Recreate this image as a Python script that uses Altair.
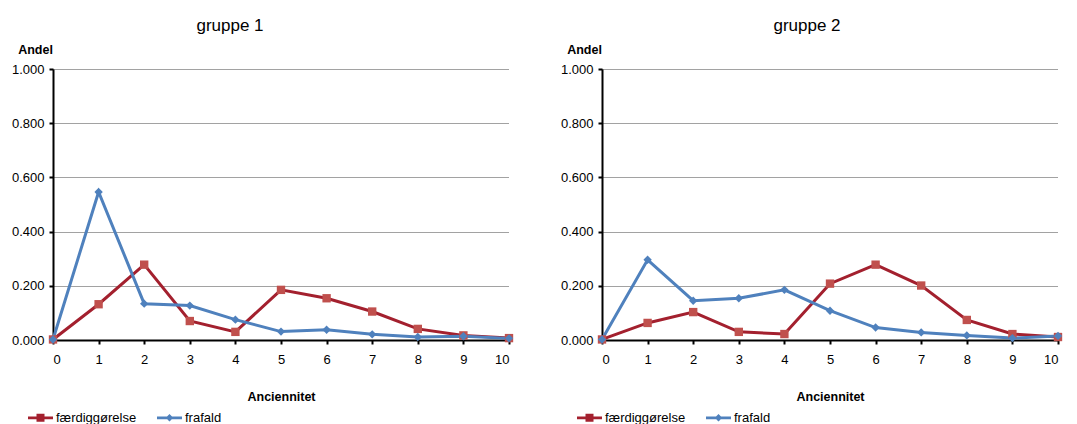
import altair as alt
import pandas as pd

x_vals = [0, 1, 2, 3, 4, 5, 6, 7, 8, 9, 10]
series_names = ["færdiggørelse", "frafald"]

g1_faerdig = [0.002, 0.132, 0.278, 0.070, 0.030, 0.185, 0.154, 0.105, 0.041, 0.017, 0.007]
g1_frafald = [0.002, 0.546, 0.134, 0.127, 0.075, 0.031, 0.038, 0.021, 0.011, 0.014, 0.006]
g2_faerdig = [0.002, 0.063, 0.103, 0.030, 0.022, 0.208, 0.278, 0.201, 0.074, 0.022, 0.011]
g2_frafald = [0.002, 0.296, 0.145, 0.154, 0.185, 0.108, 0.046, 0.028, 0.017, 0.007, 0.015]

line_colors = ["#A3202E", "#4F81BD"]
marker_colors = ["#C0504D", "#4F81BD"]

FONT = "Liberation Sans"


def make_df(a, b):
    rows = []
    for s, vals in zip(series_names, [a, b]):
        for x, v in zip(x_vals, vals):
            rows.append({"Anciennitet": x, "Andel": v, "serie": s})
    return pd.DataFrame(rows)


legend_path_sq = "M-1,-0.11L1,-0.11L1,0.11L-1,0.11Z M-0.32,-0.32L0.32,-0.32L0.32,0.32L-0.32,0.32Z"
legend_path_di = "M-1,-0.11L1,-0.11L1,0.11L-1,0.11Z M0,-0.3L0.3,0L0,0.3L-0.3,0Z"


def panel(df, title, dx):
    base = alt.Chart(df)
    xenc = alt.X(
        "Anciennitet:Q",
        scale=alt.Scale(domain=[0, 10], nice=False, zero=False),
        axis=alt.Axis(
            values=x_vals, format="d", grid=False, domainColor="black", domainWidth=2,
            tickColor="black", tickSize=4, tickWidth=2, labelPadding=9,
            title="Anciennitet", titleFontWeight="bold", titlePadding=24, titleFontSize=12.5,
        ),
    )
    yenc = alt.Y(
        "Andel:Q",
        scale=alt.Scale(domain=[0, 1], nice=False),
        axis=alt.Axis(
            values=[0, 0.2, 0.4, 0.6, 0.8, 1.0], format=".3f", grid=True,
            gridColor="#444444", gridDash=[1, 1], gridWidth=1,
            domainColor="black", domainWidth=2, tickColor="black", tickSize=4, tickWidth=2,
            labelPadding=5,
            title="Andel", titleAngle=0, titleFontWeight="bold", titleX=-18, titleY=-13,
            titleAlign="center", titleFontSize=12.5,
        ),
    )
    lines = base.mark_line(strokeWidth=3).encode(
        x=xenc, y=yenc,
        color=alt.Color("serie:N", scale=alt.Scale(domain=series_names, range=line_colors), legend=None),
    )
    pts = base.mark_point(filled=True, size=70, opacity=1).encode(
        x=xenc, y=yenc,
        color=alt.Color("serie:N", scale=alt.Scale(domain=series_names, range=marker_colors), legend=None),
        shape=alt.Shape("serie:N", scale=alt.Scale(domain=series_names, range=["square", "diamond"]), legend=None),
    )
    leg_common = dict(
        title=None, orient="none", direction="horizontal", legendX=-25, legendY=336,
        symbolSize=625, symbolStrokeWidth=0, symbolOpacity=1, labelFontSize=13, labelColor="black",
        columnPadding=20, labelOffset=3,
    )
    leg = base.mark_point(filled=True, opacity=0, size=1).encode(
        x=xenc, y=yenc,
        color=alt.Color("serie:N", scale=alt.Scale(domain=series_names, range=line_colors),
                        legend=alt.Legend(**leg_common)),
        shape=alt.Shape("serie:N", scale=alt.Scale(domain=series_names, range=[legend_path_sq, legend_path_di]),
                        legend=alt.Legend(**leg_common)),
    )
    return alt.layer(lines, pts, leg).resolve_scale(color="independent", shape="independent").properties(
        width=456, height=271,
        title=alt.TitleParams(title, fontSize=17, fontWeight="normal", font=FONT, frame="group",
                              anchor="middle", dx=dx, offset=8),
    )


p1 = panel(make_df(g1_faerdig, g1_frafald), "gruppe 1", -51)
p2 = panel(make_df(g2_faerdig, g2_frafald), "gruppe 2", -23)

chart = alt.hconcat(p1, p2, spacing=93, bounds="flush").resolve_legend(
    color="independent", shape="independent"
).configure(
    font=FONT, autosize=alt.AutoSizeParams(type="pad"), padding={"left": 3, "top": 9, "right": 0, "bottom": 0}
).configure_view(stroke=None).configure_axis(
    labelFont=FONT, titleFont=FONT, labelFontSize=13, titleFontSize=12.5, labelColor="black", titleColor="black"
).configure_legend(labelFont=FONT)

chart.save("out.html", embed_options={"renderer": "svg", "actions": False})
